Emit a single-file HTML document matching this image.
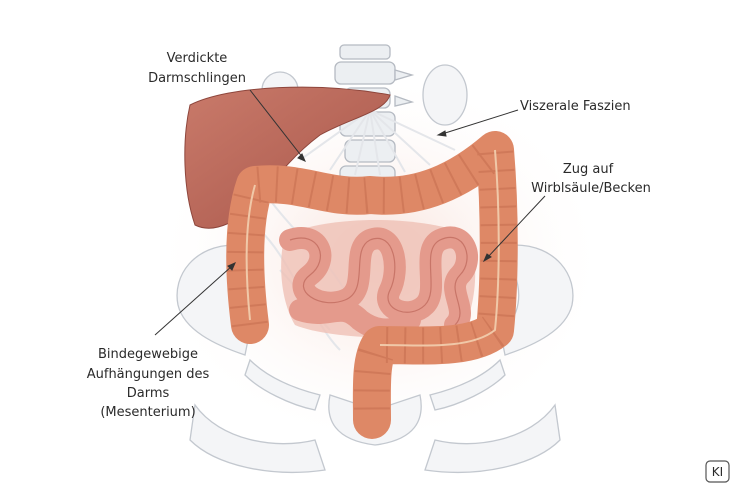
<!DOCTYPE html>
<html><head><meta charset="utf-8"><style>
html,body{margin:0;padding:0;background:#fff}
svg{display:block}
text{font-family:"DejaVu Sans","Liberation Sans",sans-serif;font-size:13px;fill:#2a2a2a}
</style></head><body>
<svg width="750" height="500" viewBox="0 0 750 500" xmlns="http://www.w3.org/2000/svg">
<defs>
<radialGradient id="glow" cx="0.5" cy="0.5" r="0.5">
<stop offset="0" stop-color="#f6d9cf" stop-opacity="0.8"/>
<stop offset="1" stop-color="#fff" stop-opacity="0"/>
</radialGradient>
<linearGradient id="liver" x1="0" y1="0" x2="1" y2="1">
<stop offset="0" stop-color="#c97a6a"/><stop offset="1" stop-color="#a8564a"/>
</linearGradient>
</defs>
<rect width="750" height="500" fill="#fff"/>
<ellipse cx="380" cy="260" rx="230" ry="190" fill="url(#glow)"/>
<g fill="#f4f5f7" stroke="#c3c8cf" stroke-width="1.3">
<path d="M235 245 C195 245 172 275 178 305 C184 330 215 345 245 355 L250 330 C230 320 225 290 240 265Z"/>
<path d="M515 245 C555 245 578 275 572 305 C566 330 535 345 505 355 L500 330 C520 320 525 290 510 265Z"/>
<path d="M330 395 C325 420 335 440 375 445 C415 440 425 420 420 395 L375 410Z"/>
<path d="M195 405 C220 440 275 450 315 440 L325 470 C270 478 215 465 190 440Z"/>
<path d="M555 405 C530 440 475 450 435 440 L425 470 C480 478 535 465 560 440Z"/>
<path d="M250 360 C270 380 300 390 320 395 L315 410 C290 405 260 390 245 375Z"/>
<path d="M500 360 C480 380 450 390 430 395 L435 410 C460 405 490 390 505 375Z"/>
<ellipse cx="280" cy="90" rx="18" ry="18"/>
<ellipse cx="445" cy="95" rx="22" ry="30"/>
</g>
<g fill="#eceff2" stroke="#b5bac2" stroke-width="1.3">
<rect x="340" y="45" width="50" height="14" rx="4"/>
<rect x="335" y="62" width="60" height="22" rx="6"/>
<rect x="345" y="88" width="45" height="20" rx="6"/>
<rect x="340" y="112" width="55" height="24" rx="6"/>
<rect x="345" y="140" width="50" height="22" rx="6"/>
<rect x="340" y="166" width="55" height="22" rx="6"/>
<path d="M395 70 L412 75 L395 80Z M395 96 L412 102 L395 106Z"/>
</g>
<g stroke="#e4e6ea" stroke-width="2" fill="none">
<path d="M370 110 L300 160 M370 110 L330 170 M370 110 L355 175 M370 110 L380 175 M370 110 L405 172 M370 110 L430 165 M370 110 L455 150"/>
<path d="M270 200 C300 240 330 260 350 300 M260 230 C290 260 300 300 330 330 M280 270 C310 300 320 330 340 350"/>
</g>
<path d="M190 105 C230 85 320 82 390 95 C385 112 350 118 320 135 C300 150 280 170 260 200 C240 220 215 235 195 225 C183 190 182 140 190 105Z" fill="url(#liver)" stroke="#8e463c" stroke-width="1"/>
<path d="M285 235 C330 215 420 215 470 235 C480 270 475 310 460 335 C420 340 330 340 295 325 C280 300 278 260 285 235Z" fill="#efc0b5" opacity="0.8"/>
<g fill="none" stroke="#e49a8c" stroke-width="22" stroke-linecap="round">
<path d="M290 240 C320 230 330 260 310 275 C290 290 320 310 345 300 C370 290 350 250 370 240 C395 230 400 270 390 290 C380 310 410 320 425 305 C440 290 420 250 440 240 C465 228 475 260 460 275 C445 290 470 310 455 325"/>
<path d="M300 310 C330 320 340 300 360 320 C380 335 400 330 410 320"/>
</g>
<g fill="none" stroke="#c87568" stroke-width="1.2">
<path d="M290 240 C320 230 330 260 310 275 C290 290 320 310 345 300 C370 290 350 250 370 240 C395 230 400 270 390 290 C380 310 410 320 425 305 C440 290 420 250 440 240 C465 228 475 260 460 275 C445 290 470 310 455 325"/>
</g>
<g fill="none" stroke="#de8866" stroke-width="38" stroke-linecap="round" stroke-linejoin="round">
<path d="M250 325 C243 270 243 220 255 185 C300 180 330 200 370 195 C420 200 460 180 495 150 C500 210 500 280 495 330 C470 350 420 345 380 345 C370 360 372 390 372 420"/>
</g>
<g fill="none" stroke="#b85e42" stroke-width="36" stroke-opacity="0.35" stroke-dasharray="2 16">
<path d="M250 325 C243 270 243 220 255 185 C300 180 330 200 370 195 C420 200 460 180 495 150 C500 210 500 280 495 330 C470 350 420 345 380 345 C370 360 372 390 372 420"/>
</g>
<g fill="none" stroke="#f0c8a8" stroke-width="2">
<path d="M250 320 C245 270 245 220 255 185 M495 150 C500 210 500 280 495 330 C470 350 420 345 380 345"/>
</g>
<g stroke="#333" stroke-width="1" fill="#333">
<line x1="250" y1="90" x2="303" y2="158"/><path d="M305 161 l-7 -3 l4 -4Z"/>
<line x1="518" y1="110" x2="442" y2="134"/><path d="M438 135 l7 -4 l1 5Z"/>
<line x1="545" y1="196" x2="487" y2="258"/><path d="M484 261 l3 -7 l4 3Z"/>
<line x1="155" y1="335" x2="232" y2="266"/><path d="M235 263 l-3 7 l-4 -4Z"/>
</g>
<text x="197" y="62" text-anchor="middle">Verdickte</text>
<text x="197" y="82" text-anchor="middle">Darmschlingen</text>
<text x="520" y="110">Viszerale Faszien</text>
<text x="588" y="173" text-anchor="middle">Zug auf</text>
<text x="591" y="192" text-anchor="middle">Wirblsäule/Becken</text>
<text x="148" y="358" text-anchor="middle">Bindegewebige</text>
<text x="148" y="378" text-anchor="middle">Aufhängungen des</text>
<text x="148" y="397" text-anchor="middle">Darms</text>
<text x="148" y="416" text-anchor="middle">(Mesenterium)</text>
<rect x="706" y="461" width="23" height="21" rx="4" fill="#fff" stroke="#555" stroke-width="1.2"/>
<text x="717.5" y="476" text-anchor="middle" style="font-size:12px">KI</text>
</svg>
</body></html>
